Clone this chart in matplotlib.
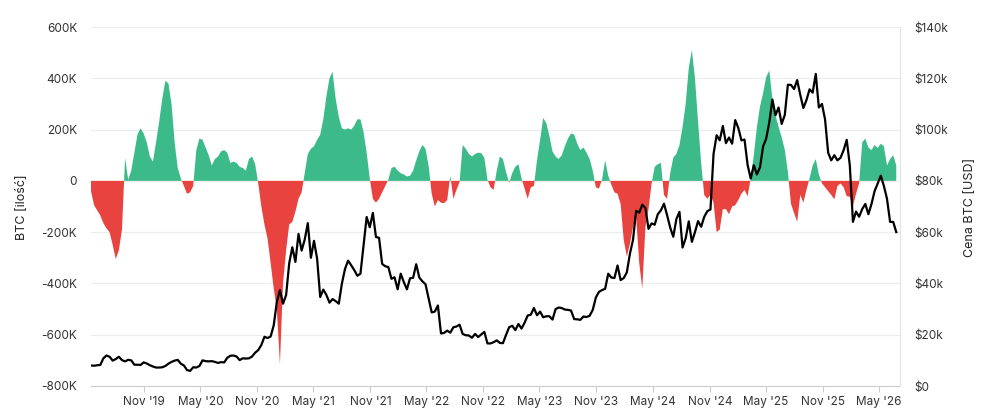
import matplotlib
matplotlib.use('Agg')
import numpy as np
import pandas as pd
import matplotlib.pyplot as plt
import matplotlib.dates as mdates
from matplotlib.ticker import FuncFormatter, MultipleLocator

plt.rcParams['font.family'] = ['Inter', 'DejaVu Sans']

# data sampled every 10 days from 2019-05-14
start_date = '2019-05-14'

# net BTC change, thousands of BTC
flow = [
    -40, -95, -115, -135, -165, -185, -200, -250, -305, -270,
    -190, 90, 5, 40, 110, 180, 205, 185, 150, 95,
    75, 150, 230, 320, 390, 380, 300, 150, 50, 10,
    -20, -50, -45, -20, 120, 165, 160, 130, 100, 60,
    85, 95, 115, 120, 110, 70, 75, 70, 55, 50,
    40, 85, 95, 65, -10, -100, -170, -225, -320, -420,
    -500, -715, -400, -270, -170, -160, -120, -70, -45, 30,
    105, 125, 135, 160, 180, 240, 330, 400, 425, 320,
    250, 205, 200, 205, 200, 215, 240, 240, 190, 110,
    10, -70, -85, -70, -45, -20, 5, 50, 55, 40,
    30, 25, 17, 20, 40, 80, 115, 140, 125, 60,
    -50, -100, -75, -85, -87, -75, 20, -70, -35, -5,
    140, 125, 105, 95, 105, 110, 108, 90, 5, -25,
    -35, 40, 95, 85, 35, -8, 30, 55, 65, 10,
    -30, -70, -25, -20, 80, 160, 245, 225, 175, 115,
    95, 85, 100, 135, 165, 185, 180, 145, 120, 130,
    110, 85, 40, -25, -30, 5, 80, 20, -15, -45,
    -50, -90, -230, -295, -245, -180, -140, -320, -420, -180,
    -110, -10, 55, 65, 70, -55, -70, 30, 90, 105,
    140, 210, 300, 440, 510, 400, 230, 70, -55, -70,
    -55, -85, -200, -190, -110, -110, -130, -100, -95, -75,
    -50, -35, -60, 10, 100, 210, 290, 342, 405, 430,
    320, 255, 210, 170, 121, 35, -90, -125, -160, -55,
    -85, -35, 10, 60, 85, 25, -10, -25, -40, -55,
    -72, -20, -10, -25, -60, -62, -100, -50, -10, 150,
    165, 130, 120, 140, 128, 145, 135, 60, 85, 100,
    60,
]

# BTC price, thousands of USD
price = [
    8.0, 7.9, 8.1, 8.2, 10.8, 11.9, 11.4, 9.9, 10.5, 11.4,
    10.1, 9.6, 10.2, 10.0, 8.3, 8.3, 8.2, 9.2, 8.8, 8.1,
    7.6, 7.2, 7.2, 7.3, 7.8, 8.7, 9.4, 9.9, 10.2, 8.7,
    8.0, 6.2, 5.9, 7.3, 7.2, 7.8, 10.0, 9.7, 9.6, 9.7,
    9.4, 9.0, 9.3, 9.2, 11.0, 11.8, 11.9, 11.5, 10.1, 10.8,
    10.7, 10.8, 11.5, 13.0, 14.0, 16.0, 19.2, 18.7, 19.3, 23.7,
    32.8, 37.4, 32.1, 35.5, 47.9, 54.1, 48.4, 59.3, 52.8, 57.1,
    63.5, 50.0, 56.6, 49.7, 34.7, 37.6, 35.5, 32.5, 33.9, 33.1,
    32.1, 39.9, 45.6, 48.9, 47.1, 45.2, 43.0, 43.8, 54.9, 65.9,
    61.9, 67.5, 58.1, 57.8, 47.6, 46.7, 46.4, 41.8, 42.4, 37.7,
    43.8, 40.5, 37.7, 42.0, 42.2, 47.5, 42.3, 40.8, 39.7, 34.1,
    28.7, 29.0, 31.4, 20.5, 20.7, 21.6, 20.8, 22.9, 23.2, 23.9,
    20.3, 19.8, 19.7, 18.8, 20.3, 19.1, 20.1, 21.1, 16.6, 16.6,
    17.1, 17.8, 16.8, 16.7, 19.9, 22.9, 23.5, 21.8, 24.2, 22.4,
    24.7, 27.5, 27.8, 30.4, 27.6, 29.0, 26.8, 27.2, 27.2, 25.9,
    30.0, 30.6, 30.4, 29.8, 29.7, 29.4, 26.1, 26.0, 25.8, 27.1,
    26.9, 27.4, 29.7, 34.5, 36.7, 37.4, 37.9, 43.8, 42.3, 42.1,
    47.0, 41.3, 42.1, 44.3, 51.6, 57.0, 68.3, 67.6, 70.7, 69.4,
    61.3, 63.4, 62.9, 67.0, 68.5, 71.1, 66.6, 61.8, 58.2, 65.1,
    67.9, 54.0, 57.6, 64.2, 56.2, 60.0, 64.3, 62.1, 66.0, 68.2,
    68.8, 90.5, 97.8, 95.8, 101.4, 94.7, 96.9, 94.5, 103.7, 100.6,
    95.8, 96.1, 86.2, 80.9, 86.1, 82.5, 85.3, 93.4, 96.5, 102.8,
    111.7, 105.6, 108.6, 102.2, 105.7, 117.5, 117.4, 115.8, 119.3, 113.5,
    108.4, 111.5, 115.7, 114.4, 121.7, 108.6, 110.0, 104.0, 91.0, 88.0,
    90.0, 88.0, 89.0, 92.0, 96.0, 86.0, 64.0, 68.0, 66.0, 69.0,
    71.0, 67.0, 71.0, 76.0, 79.0, 82.0, 78.0, 73.0, 64.0, 64.0,
    60.0,
]

dates = pd.date_range(start_date, periods=len(flow), freq='10D')
flow = np.array(flow, dtype=float)
price = np.array(price, dtype=float)

green = '#3dba89'
red = '#e8433f'
tick_col = '#333333'

fig = plt.figure(figsize=(9.87, 4.17), dpi=100)
ax = fig.add_axes([91/987, 31/417, 809/987, 359/417])

ax.fill_between(dates, 0, flow, where=flow >= 0, interpolate=True, color=green, lw=0)
ax.fill_between(dates, 0, flow, where=flow <= 0, interpolate=True, color=red, lw=0)
ax.set_ylim(-800, 600)
ax.yaxis.set_major_locator(MultipleLocator(200))
ax.yaxis.set_major_formatter(FuncFormatter(lambda v, p: '0' if v == 0 else '%dK' % v))
ax.grid(axis='y', color='#ececec', lw=0.8)
ax.set_axisbelow(True)

ax.set_xlim(pd.Timestamp('2019-05-14'), pd.Timestamp('2026-07-08'))
ax.xaxis.set_major_locator(mdates.MonthLocator(bymonth=[5, 11]))
ax.xaxis.set_major_formatter(mdates.DateFormatter("%b '%y"))

for s in ['top', 'left', 'right']:
    ax.spines[s].set_visible(False)
ax.spines['bottom'].set_color('#cccccc')
ax.tick_params(axis='y', length=0, pad=10, labelsize=8.5, labelcolor=tick_col)
ax.tick_params(axis='x', length=4.5, color='#cccccc', pad=3, labelsize=8.5, labelcolor=tick_col)

ax2 = ax.twinx()
ax2.plot(dates, price, color='black', lw=1.6)
ax2.set_ylim(0, 140)
ax2.yaxis.set_major_locator(MultipleLocator(20))
ax2.yaxis.set_major_formatter(FuncFormatter(lambda v, p: '$%dk' % v if v else '$0'))
for s in ['top', 'left', 'bottom']:
    ax2.spines[s].set_visible(False)
ax2.spines['right'].set_color('#e2e2e2')
ax2.tick_params(axis='y', length=0, pad=10, labelsize=8.5, labelcolor=tick_col)

fig.text(22/987, 1 - 207/417, 'BTC [ilość]', rotation=90, ha='center', va='center', fontsize=9, color='#222222')
fig.text(970/987, 1 - 207/417, 'Cena BTC [USD]', rotation=90, ha='center', va='center', fontsize=9, color='#222222')

fig.savefig('out.png', dpi=100)
